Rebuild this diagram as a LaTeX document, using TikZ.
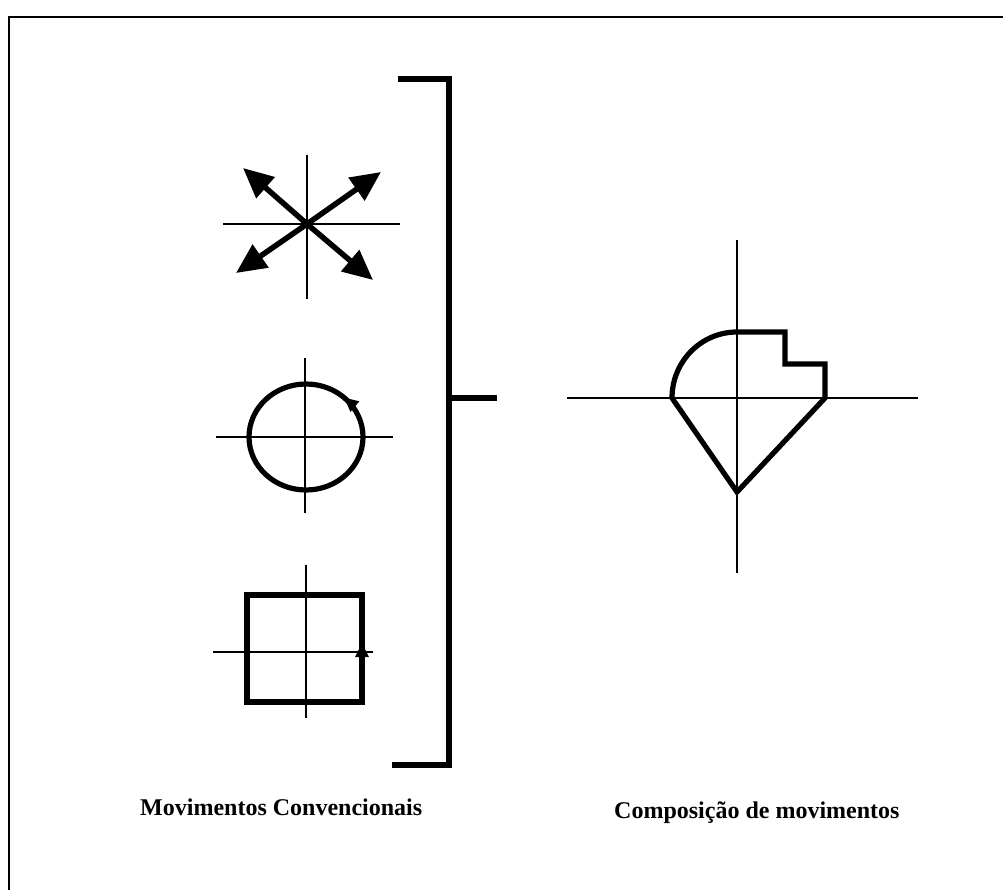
\documentclass[tikz,border=0pt]{standalone}
\usepackage{fontspec}
\setmainfont{Liberation Serif}
\usetikzlibrary{arrows.meta}
\begin{document}
\begin{tikzpicture}[x=1pt,y=-1pt,
  axis/.style={line width=1.3pt},
  heavy/.style={line width=5.2pt},
  bracketline/.style={line width=6pt},
  bigarrow/.style={line width=5.5pt,-{Triangle[length=30pt,width=27pt]}},
  smallarrow/.style={line width=3pt,-{Triangle[length=14pt,width=13pt]}},
  caption/.style={font=\bfseries\fontsize{24}{28}\selectfont,inner sep=0pt,anchor=base west}]
\useasboundingbox (0,0) rectangle (1003,890);
% frame (cut at right and bottom)
\coordinate (ftl) at (9,17);
\coordinate (ftr) at (1010,17);
\coordinate (fbl) at (9,900);
\draw[line width=2pt] (fbl) -- (ftl) -- (ftr);
% --- cross with arrows
\coordinate (c1) at (307,224);
\coordinate (c1t) at (307,155);
\coordinate (c1b) at (307,299);
\coordinate (c1l) at (223,224);
\coordinate (c1r) at (400,224);
\draw[axis] (c1t) -- (c1b);
\draw[axis] (c1l) -- (c1r);
\coordinate (a1) at (243,168);
\coordinate (a2) at (381,172);
\coordinate (a3) at (236,273);
\coordinate (a4) at (373,280);
\draw[bigarrow] (c1) -- (a1);
\draw[bigarrow] (c1) -- (a2);
\draw[bigarrow] (c1) -- (a3);
\draw[bigarrow] (c1) -- (a4);
% --- circle
\coordinate (c2) at (306,437);
\coordinate (c2t) at (305,358);
\coordinate (c2b) at (305,513);
\coordinate (c2l) at (216,437);
\coordinate (c2r) at (393,437);
\draw[axis] (c2t) -- (c2b);
\draw[axis] (c2l) -- (c2r);
\draw[heavy] (c2) ellipse [x radius=57, y radius=53];
\draw[smallarrow] (c2) ++(-22:57 and 53) arc [start angle=-22, end angle=-48, x radius=57, y radius=53];
% --- square
\coordinate (c3t) at (306,565);
\coordinate (c3b) at (306,718);
\coordinate (c3l) at (213,652);
\coordinate (c3r) at (373,652);
\draw[axis] (c3t) -- (c3b);
\draw[axis] (c3l) -- (c3r);
\coordinate (s1) at (247,595);
\coordinate (s2) at (362,702);
\draw[heavy] (s1) rectangle (s2);
\coordinate (sa0) at (362,672);
\coordinate (sa1) at (362,643);
\draw[smallarrow] (sa0) -- (sa1);
% --- bracket
\coordinate (b1) at (398,79);
\coordinate (b2) at (449,79);
\coordinate (b3) at (449,765);
\coordinate (b4) at (392,765);
\coordinate (bm) at (449,398);
\coordinate (bt) at (497,398);
\draw[bracketline] (b1) -- (b2) -- (b3) -- (b4);
\draw[bracketline] (bm) -- (bt);
% --- composition
\coordinate (c4t) at (737,240);
\coordinate (c4b) at (737,573);
\coordinate (c4l) at (567,398);
\coordinate (c4r) at (918,398);
\draw[axis] (c4t) -- (c4b);
\draw[axis] (c4l) -- (c4r);
\coordinate (p1) at (672,398);
\coordinate (p2) at (737,332);
\coordinate (p3) at (785,332);
\coordinate (p4) at (785,364);
\coordinate (p5) at (825,364);
\coordinate (p6) at (825,398);
\coordinate (p7) at (737,492);
\draw[heavy,line join=miter] (p1) arc [start angle=180, end angle=270, x radius=65, y radius=66]
  -- (p3) -- (p4) -- (p5) -- (p6) -- (p7) -- cycle;
% captions
\node[caption] (cap1) at (140,815) {Movimentos Convencionais};
\node[caption] (cap2) at (614,818) {Composição de movimentos};
\end{tikzpicture}
\end{document}
